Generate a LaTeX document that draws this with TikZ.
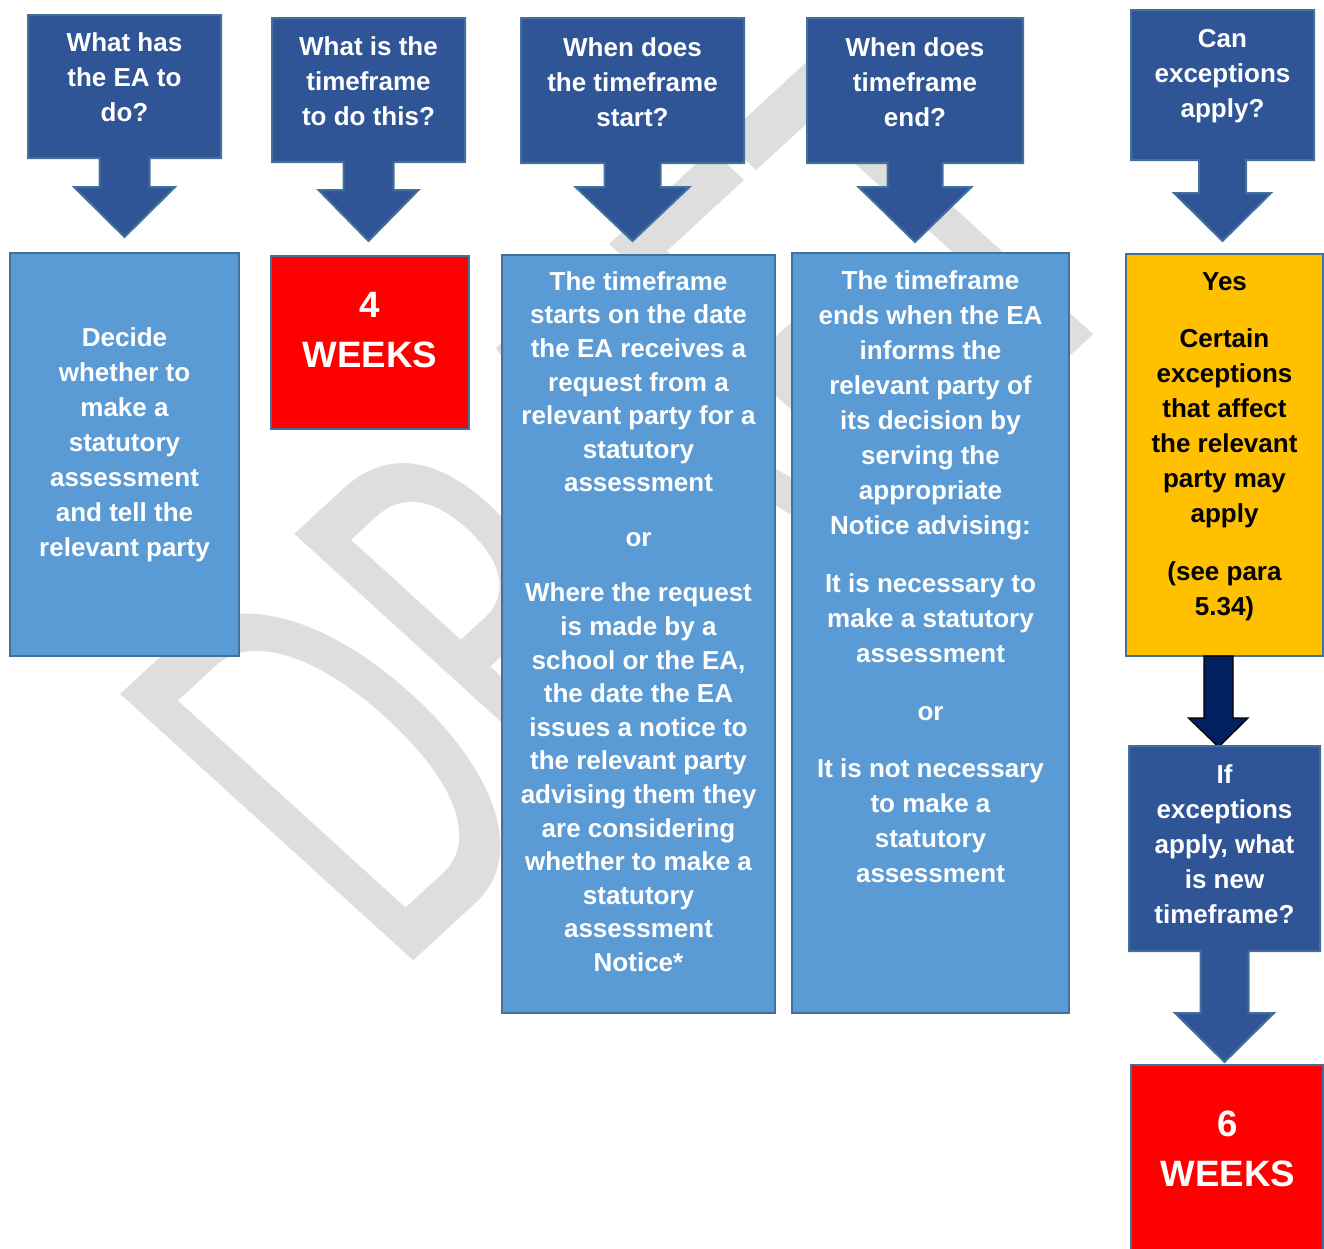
\documentclass[tikz,border=0pt]{standalone}
\usepackage{fontspec}
\setmainfont{Liberation Sans}
\newfontfamily\wmfont{Carlito}
\usetikzlibrary{calc}
\definecolor{hdr}{RGB}{47,85,151}
\definecolor{bdr}{RGB}{65,113,156}
\definecolor{lblue}{RGB}{91,155,213}
\definecolor{ylw}{RGB}{255,192,0}
\definecolor{navyfill}{RGB}{0,32,96}
\definecolor{wm}{RGB}{222,222,222}
\newcommand\callpath[5]{%
  \path[callout] (#1.north west) -- (#1.north east) -- (#1.south east)
    -- ($(#1.south)+(#2,0)$) -- ($(#1.south)+(#2,#3)$) -- ($(#1.south)+(#4,#3)$)
    -- ($(#1.south)+(0,#5)$) -- ($(#1.south)+(-#4,#3)$) -- ($(#1.south)+(-#2,#3)$)
    -- ($(#1.south)+(-#2,0)$) -- (#1.south west) -- cycle;}
\begin{document}
\begin{tikzpicture}[x=0.75pt,y=-0.75pt,
  anchorbox/.style={rectangle, draw=none, inner sep=0pt, outer sep=0pt},
  callout/.style={fill=hdr, draw=bdr, line width=1.5pt, line join=miter},
  bodybox/.style={rectangle, draw=bdr, line width=1.5pt, inner sep=0pt, outer sep=0pt},
  wtxt/.style={text=white, align=center, inner sep=0pt,
    font=\bfseries\fontsize{19.5}{26.25}\selectfont,
    execute at begin node=\strut, execute at end node=\strut},
  bigtxt/.style={text=white, align=center, inner sep=0pt,
    font=\bfseries\fontsize{27.5}{37.5}\selectfont,
    execute at begin node=\strut, execute at end node=\strut},
  wmark/.style={text=wm, inner sep=0pt, font=\wmfont\fontsize{463}{463}\selectfont},
  navyarrow/.style={fill=navyfill, draw=black, line width=1pt, line join=miter}
]
\useasboundingbox (0,0) rectangle (1324,1249);
\clip (0,0) rectangle (1324,1249);

% watermark
\node[wmark, shift={(394,979)}, cm={0.4563,0.4197,-0.740,0.673,(0,0)}, transform shape, anchor=base west] (wmk) at (0,0) {DRAFT};

% header callouts
\node[anchorbox, minimum width=193*0.75pt, minimum height=143*0.75pt] (h1) at (124.5,86.5) {};
\node[anchorbox, minimum width=193*0.75pt, minimum height=144*0.75pt] (h2) at (368.5,90) {};
\node[anchorbox, minimum width=223*0.75pt, minimum height=145*0.75pt] (h3) at (632.5,90.5) {};
\node[anchorbox, minimum width=216*0.75pt, minimum height=145*0.75pt] (h4) at (915,90.5) {};
\node[anchorbox, minimum width=183*0.75pt, minimum height=150*0.75pt] (h5) at (1222.5,85) {};
\callpath{h1}{25}{29}{50.5}{79}
\callpath{h2}{25}{28}{50}{79}
\callpath{h3}{28}{24}{57}{78}
\callpath{h4}{27.5}{24}{56.5}{79}
\callpath{h5}{23.5}{33}{48.5}{81}

\node[wtxt] (q1) at (124.5,82.5) {What has\\the EA to\\do?};
\node[wtxt] (q2) at (368.5,86.5) {What is the\\timeframe\\to do this?};
\node[wtxt] (q3) at (632.5,87) {When does\\the timeframe\\start?};
\node[wtxt] (q4) at (915,87.5) {When does\\timeframe\\end?};
\node[wtxt] (q5) at (1222.5,78.5) {Can\\exceptions\\apply?};

% body boxes
\node[bodybox, fill=lblue, minimum width=229*0.75pt, minimum height=403*0.75pt] (b1) at (124.5,454.5) {};
\node[bodybox, fill=red, minimum width=198*0.75pt, minimum height=173*0.75pt] (b2) at (370,342.5) {};
\node[bodybox, fill=lblue, minimum width=273*0.75pt, minimum height=758*0.75pt] (b3) at (638.5,634) {};
\node[bodybox, fill=lblue, minimum width=277*0.75pt, minimum height=760*0.75pt] (b4) at (930.5,633) {};
\node[bodybox, fill=ylw, minimum width=197*0.75pt, minimum height=402*0.75pt] (b5) at (1224.5,455) {};
\node[bodybox, fill=red, minimum width=192*0.75pt, minimum height=215*0.75pt] (b6) at (1227,1172.5) {};

\node[wtxt] (t1) at (124.5,447.5) {Decide\\whether to\\make a\\statutory\\assessment\\and tell the\\relevant party};
\node[bigtxt] (t2) at (370,337) {4\\WEEKS};
\node[wtxt, font=\bfseries\fontsize{19.5}{25.2}\selectfont] (t3) at (638.5,626.5)
  {The timeframe\\starts on the date\\the EA receives a\\request from a\\relevant party for a\\statutory\\assessment\\[16pt]or\\[16pt]Where the request\\is made by a\\school or the EA,\\the date the EA\\issues a notice to\\the relevant party\\advising them they\\are considering\\whether to make a\\statutory\\assessment\\Notice*};
\node[wtxt] (t4) at (930.5,582)
  {The timeframe\\ends when the EA\\informs the\\relevant party of\\its decision by\\serving the\\appropriate\\Notice advising:\\[17pt]It is necessary to\\make a statutory\\assessment\\[17pt]or\\[17pt]It is not necessary\\to make a\\statutory\\assessment};
\node[wtxt, text=black] (t5) at (1224.5,449)
  {Yes\\[17pt]Certain\\exceptions\\that affect\\the relevant\\party may\\apply\\[17pt](see para\\5.34)};

% navy arrow from yellow box to exceptions callout
\node[anchorbox, minimum width=191*0.75pt, minimum height=205*0.75pt] (hIf) at (1224.5,848.5) {};
\path[navyarrow] ($(b5.south)+(-20.5,0)$) -- ($(b5.south)+(8.5,0)$) -- ($(b5.south)+(8.5,62)$)
  -- ($(b5.south)+(23.5,62)$) -- ($(hIf.north)+(-6,1)$) -- ($(b5.south)+(-36,62)$)
  -- ($(b5.south)+(-20.5,62)$) -- cycle;
\callpath{hIf}{24}{62}{49.5}{111}
\node[wtxt] (t6) at (1224.5,849.5) {If\\exceptions\\apply, what\\is new\\timeframe?};
\node[bigtxt] (t7) at (1228,1156) {6\\WEEKS};
\end{tikzpicture}
\end{document}
